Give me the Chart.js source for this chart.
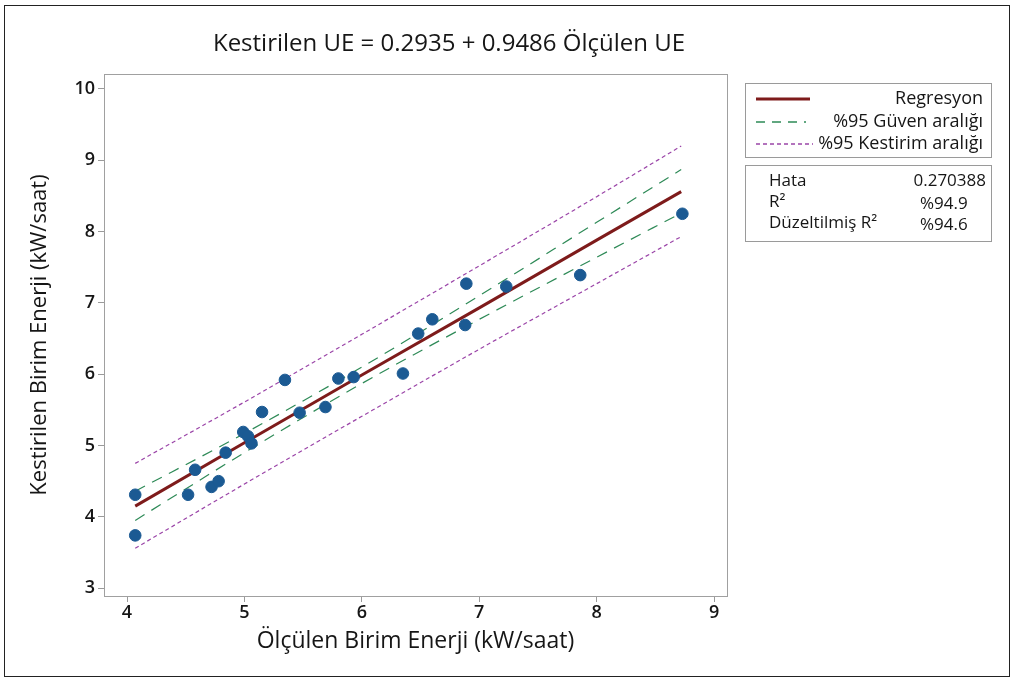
<!DOCTYPE html>
<html>
<head>
<meta charset="utf-8">
<script src="https://cdn.jsdelivr.net/npm/chart.js@4.4.1/dist/chart.umd.min.js"></script>
<style>
  body { margin: 0; background: #fff; }
  #wrap { position: relative; width: 1014px; height: 682px; }
  #frame { position: absolute; left: 4px; top: 5px; width: 1006px; height: 672px; border: 1.5px solid #222; box-sizing: border-box; pointer-events: none; }
</style>
</head>
<body>
<div id="wrap">
  <canvas id="chart" width="1014" height="682"></canvas>
  <div id="frame"></div>
</div>
<script>
// Data
const measured  = [4.07, 4.07, 4.52, 4.58, 4.72, 4.78, 4.84, 4.99, 5.03, 5.06, 5.15, 5.345,
                   5.47, 5.69, 5.80, 5.93, 6.35, 6.48, 6.60, 6.88, 6.89, 7.23, 7.86, 8.73];
const predicted = [4.31, 3.74, 4.31, 4.66, 4.42, 4.50, 4.90, 5.19, 5.13, 5.03, 5.47, 5.92,
                   5.46, 5.54, 5.94, 5.96, 6.01, 6.57, 6.77, 6.69, 7.27, 7.23, 7.39, 8.25];

// Fit line and bands, read at a few x positions
const bandX      = [4.07, 5, 6, 7, 8, 8.72];
const fitLine    = [4.15, 5.04, 5.99, 6.93, 7.88, 8.56];
const confUpper  = [4.36, 5.17, 6.10, 7.10, 8.13, 8.87];
const confLower  = [3.95, 4.90, 5.87, 6.77, 7.64, 8.26];
const predUpper  = [4.75, 5.61, 6.56, 7.52, 8.49, 9.20];
const predLower  = [3.56, 4.46, 5.41, 6.35, 7.27, 7.93];

const xTicks = [4, 5, 6, 7, 8, 9];
const yTicks = [3, 4, 5, 6, 7, 8, 9, 10];

const titleText = 'Kestirilen UE = 0.2935 + 0.9486 Ölçülen UE';
const fontName = '"Open Sans", "Noto Sans", sans-serif';
const textColor = '#161616';

const toPoints = (xs, ys) => xs.map((x, i) => ({ x: x, y: ys[i] }));

// Title, plot frame and the two legend boxes
const extras = {
  id: 'extras',
  afterDraw(chart) {
    const ctx = chart.ctx;
    const a = chart.chartArea;
    ctx.save();
    ctx.strokeStyle = '#a0a0a0';
    ctx.lineWidth = 1;
    ctx.strokeRect(Math.round(a.left) + 0.5, Math.round(a.top) + 0.5, Math.round(a.right - a.left), Math.round(a.bottom - a.top));

    ctx.fillStyle = textColor;
    ctx.font = '24px ' + fontName;
    ctx.textAlign = 'center';
    ctx.textBaseline = 'middle';
    ctx.fillText(titleText, 449, 44);

    // legend boxes
    ctx.strokeStyle = '#9a9a9a';
    ctx.strokeRect(745.5, 83.5, 246, 74);
    ctx.strokeRect(745.5, 165.5, 246, 76);

    ctx.lineWidth = 3;
    ctx.strokeStyle = '#7e1b1b';
    ctx.beginPath(); ctx.moveTo(756, 99); ctx.lineTo(810, 99); ctx.stroke();

    ctx.lineWidth = 1.3;
    ctx.strokeStyle = '#2e8a57';
    ctx.setLineDash([9, 7]);
    ctx.beginPath(); ctx.moveTo(756, 122); ctx.lineTo(806, 122); ctx.stroke();

    ctx.strokeStyle = '#9b45a8';
    ctx.setLineDash([4, 3]);
    ctx.beginPath(); ctx.moveTo(756, 144); ctx.lineTo(813, 144); ctx.stroke();
    ctx.setLineDash([]);

    ctx.fillStyle = textColor;
    ctx.font = '18px ' + fontName;
    ctx.textAlign = 'right';
    ctx.fillText('Regresyon', 983, 99);
    ctx.fillText('%95 Güven aralığı', 983, 122);
    ctx.fillText('%95 Kestirim aralığı', 983, 144);

    ctx.font = '17px ' + fontName;
    ctx.textAlign = 'left';
    ctx.fillText('Hata', 769, 181);
    ctx.fillText('R²', 769, 202);
    ctx.fillText('Düzeltilmiş R²', 769, 223);
    ctx.textAlign = 'right';
    ctx.fillText('0.270388', 986, 181);
    ctx.textAlign = 'left';
    ctx.fillText('%94.9', 920, 204);
    ctx.fillText('%94.6', 920, 225);
    ctx.restore();
  }
};

new Chart(document.getElementById('chart'), {
  type: 'scatter',
  data: {
    datasets: [
      {
        label: 'Gözlem',
        data: toPoints(measured, predicted),
        backgroundColor: '#1b5a93',
        borderColor: '#1b5a93',
        pointRadius: 5.8,
        order: 0
      },
      {
        label: 'Regresyon',
        data: toPoints(bandX, fitLine),
        showLine: true,
        borderColor: '#7e1b1b',
        borderWidth: 3,
        pointRadius: 0,
        order: 1
      },
      {
        label: '%95 Güven aralığı',
        data: toPoints(bandX, confUpper),
        showLine: true,
        borderColor: '#2e8a57',
        borderWidth: 1.2,
        borderDash: [11, 8],
        cubicInterpolationMode: 'monotone',
        pointRadius: 0,
        order: 2
      },
      {
        label: '%95 Güven aralığı alt',
        data: toPoints(bandX, confLower),
        showLine: true,
        borderColor: '#2e8a57',
        borderWidth: 1.2,
        borderDash: [11, 8],
        cubicInterpolationMode: 'monotone',
        pointRadius: 0,
        order: 2
      },
      {
        label: '%95 Kestirim aralığı',
        data: toPoints(bandX, predUpper),
        showLine: true,
        borderColor: '#9b45a8',
        borderWidth: 1.2,
        borderDash: [4, 3],
        cubicInterpolationMode: 'monotone',
        pointRadius: 0,
        order: 3
      },
      {
        label: '%95 Kestirim aralığı alt',
        data: toPoints(bandX, predLower),
        showLine: true,
        borderColor: '#9b45a8',
        borderWidth: 1.2,
        borderDash: [4, 3],
        cubicInterpolationMode: 'monotone',
        pointRadius: 0,
        order: 3
      }
    ]
  },
  options: {
    responsive: false,
    animation: false,
    layout: { padding: { left: 0, top: 74, right: 287, bottom: 0 } },
    plugins: {
      legend: { display: false },
      tooltip: { enabled: false }
    },
    scales: {
      x: {
        type: 'linear',
        min: 3.804,
        max: 9.11,
        afterBuildTicks: s => { s.ticks = xTicks.map(v => ({ value: v })); },
        afterFit: s => { s.height = 86; },
        grid: { drawOnChartArea: false, tickLength: 6, color: '#9a9a9a' },
        border: { color: '#a0a0a0' },
        ticks: { color: textColor, font: { size: 18, family: fontName, weight: '600' }, padding: 0 },
        title: { display: true, text: 'Ölçülen Birim Enerji (kW/saat)', color: textColor, font: { size: 23, family: fontName }, padding: { top: 0, bottom: 27 } }
      },
      y: {
        type: 'linear',
        min: 2.89,
        max: 10.21,
        afterBuildTicks: s => { s.ticks = yTicks.map(v => ({ value: v })); },
        afterFit: s => { s.width = 104; },
        grid: { drawOnChartArea: false, tickLength: 6, color: '#9a9a9a' },
        border: { color: '#a0a0a0' },
        ticks: { color: textColor, font: { size: 18, family: fontName, weight: '600' }, padding: 3 },
        title: { display: true, text: 'Kestirilen Birim Enerji (kW/saat)', color: textColor, font: { size: 22, family: fontName }, padding: { top: 27, bottom: 0 } }
      }
    }
  },
  plugins: [extras]
});
</script>
</body>
</html>
